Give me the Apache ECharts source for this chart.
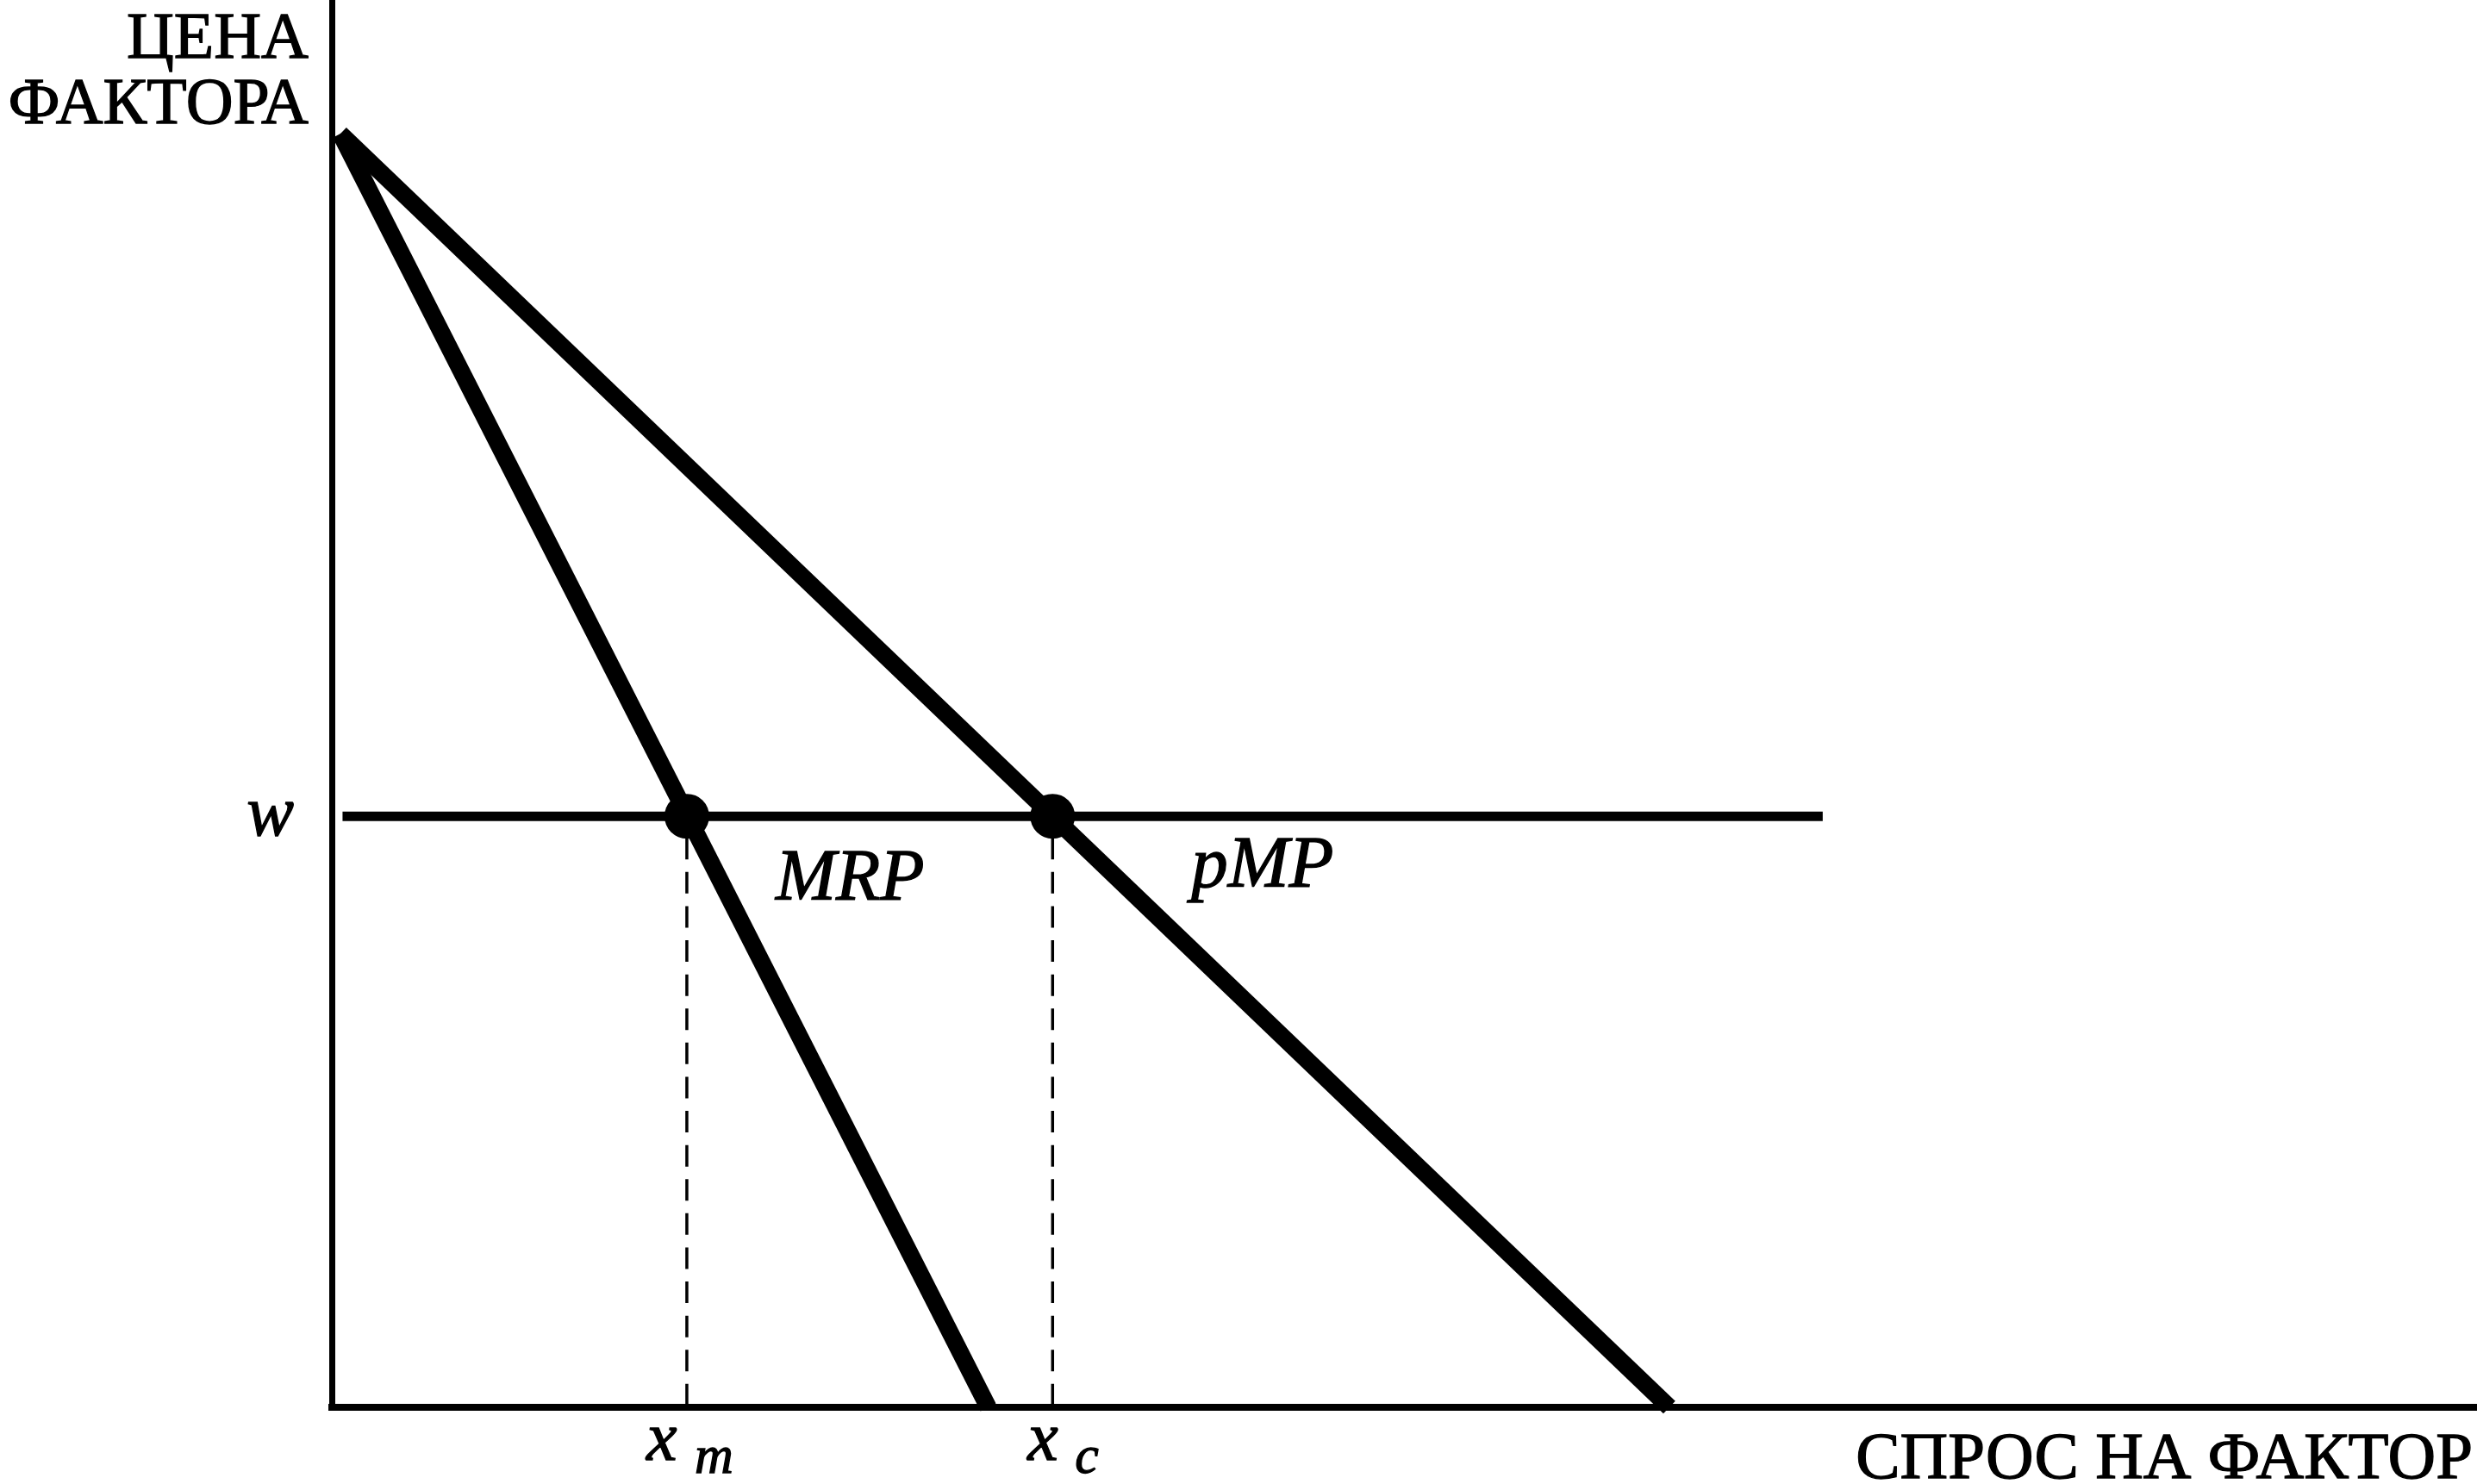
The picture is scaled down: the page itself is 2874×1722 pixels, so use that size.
<!DOCTYPE html>
<html>
<head>
<meta charset="utf-8">
<script src="https://cdn.jsdelivr.net/npm/echarts@6/dist/echarts.min.js"></script>
<style>
html, body { margin: 0; padding: 0; background: #ffffff; }
#chart { width: 2874px; height: 1722px; }
</style>
</head>
<body>
<div id="chart"></div>
<script>
// ---------- data ----------
const curveNames = ['MRP', 'pMP'];
const curveStart = [0.4, 90.5];        // shared upper point of both curves
const curveEndX = [30.6, 62.35];       // x-intercepts of MRP and pMP
const wage = 42;                       // w
const wageLineX = [0.5, 69.5];         // extent of the horizontal wage line
const equilibriumX = [16.55, 33.6];    // x_m, x_c
const xTickMain = ['x', 'x'];
const xTickSub = ['m', 'c'];
const wageLabel = 'w';
const yTitleLines = ['ЦЕНА', 'ФАКТОРА'];
const xTitle = 'СПРОС НА ФАКТОР';
const xRange = [0, 100];
const yRange = [0, 100];

// ---------- layout constants ----------
const SERIF = '"Liberation Serif", "Times New Roman", serif';
const tickMainDx = [-47, -29];
const tickSubDx = [9, 26];
const TEXT_STROKE = 1.3;

const series = [];
curveNames.forEach(function (name, i) {
  series.push({
    name: name,
    type: 'line',
    data: [curveStart, [curveEndX[i], 0]],
    symbol: 'none',
    silent: true,
    lineStyle: { color: '#000', width: 20, cap: 'butt' },
    z: 3
  });
});
series.push({
  name: 'w',
  type: 'line',
  data: [[wageLineX[0], wage], [wageLineX[1], wage]],
  symbol: 'none',
  silent: true,
  lineStyle: { color: '#000', width: 11, cap: 'butt' },
  z: 3
});
equilibriumX.forEach(function (x) {
  series.push({
    type: 'line',
    data: [[x, wage], [x, 0]],
    symbol: 'none',
    silent: true,
    lineStyle: { color: '#000', width: 3.5, type: [25, 14.6], dashOffset: 14.5 },
    z: 2
  });
});
series.push({
  type: 'scatter',
  data: equilibriumX.map(function (x) { return [x, wage]; }),
  symbol: 'circle',
  symbolSize: 52,
  silent: true,
  itemStyle: { color: '#000', opacity: 1 },
  z: 5
});

const option = {
  animation: false,
  backgroundColor: '#ffffff',
  textStyle: { fontFamily: SERIF },
  grid: { left: 385, right: 0, top: 0, bottom: 89, containLabel: false },
  xAxis: {
    type: 'value', min: xRange[0], max: xRange[1],
    axisLine: { show: true, onZero: false, lineStyle: { color: '#000', width: 8, cap: 'square' } },
    axisTick: { show: false },
    axisLabel: { show: false },
    splitLine: { show: false }
  },
  yAxis: {
    type: 'value', min: yRange[0], max: yRange[1],
    axisLine: { show: true, onZero: false, lineStyle: { color: '#000', width: 7, cap: 'square' } },
    axisTick: { show: false },
    axisLabel: {
      show: true,
      customValues: [wage],
      formatter: function () { return wageLabel; },
      color: '#000',
      fontFamily: SERIF,
      fontStyle: 'italic',
      fontSize: 82,
      margin: 44,
      textBorderColor: '#000',
      textBorderWidth: TEXT_STROKE
    },
    splitLine: { show: false }
  },
  series: series
};

const chart = echarts.init(document.getElementById('chart'), null, { renderer: 'canvas' });
chart.setOption(option);

function P(v) { return chart.convertToPixel({ gridIndex: 0 }, v); }
const origin = P([0, 0]);
const graphic = [];

function txt(text, x, y, size, align, italic) {
  return {
    type: 'text', x: x, y: y, silent: true,
    style: {
      text: text, fill: '#000', fontFamily: SERIF, fontSize: size,
      fontStyle: italic ? 'italic' : 'normal',
      align: align, verticalAlign: 'middle',
      stroke: '#000', lineWidth: TEXT_STROKE
    }
  };
}

// Y axis title
graphic.push(txt(yTitleLines[0], origin[0] - 27, 47.5, 76, 'right', false));
graphic.push(txt(yTitleLines[1], origin[0] - 27, 123, 76, 'right', false));
// X axis title
graphic.push(txt(xTitle, 2869, origin[1] + 61.7, 77, 'right', false));

// x_m, x_c tick labels
equilibriumX.forEach(function (x, i) {
  const p = P([x, 0]);
  graphic.push(txt(xTickMain[i], p[0] + tickMainDx[i], p[1] + 40, 80, 'left', true));
  graphic.push(txt(xTickSub[i], p[0] + tickSubDx[i], p[1] + 60, 62, 'left', true));
});

// curve labels next to the equilibrium points
const d1 = P([equilibriumX[0], wage]);
const d2 = P([equilibriumX[1], wage]);
graphic.push(txt(curveNames[0], d1[0] + 103, d1[1] + 75, 84, 'left', true));
graphic.push(txt(curveNames[1], d2[0] + 161, d2[1] + 60, 85, 'left', true));

chart.setOption({ graphic: graphic });
</script>
</body>
</html>
